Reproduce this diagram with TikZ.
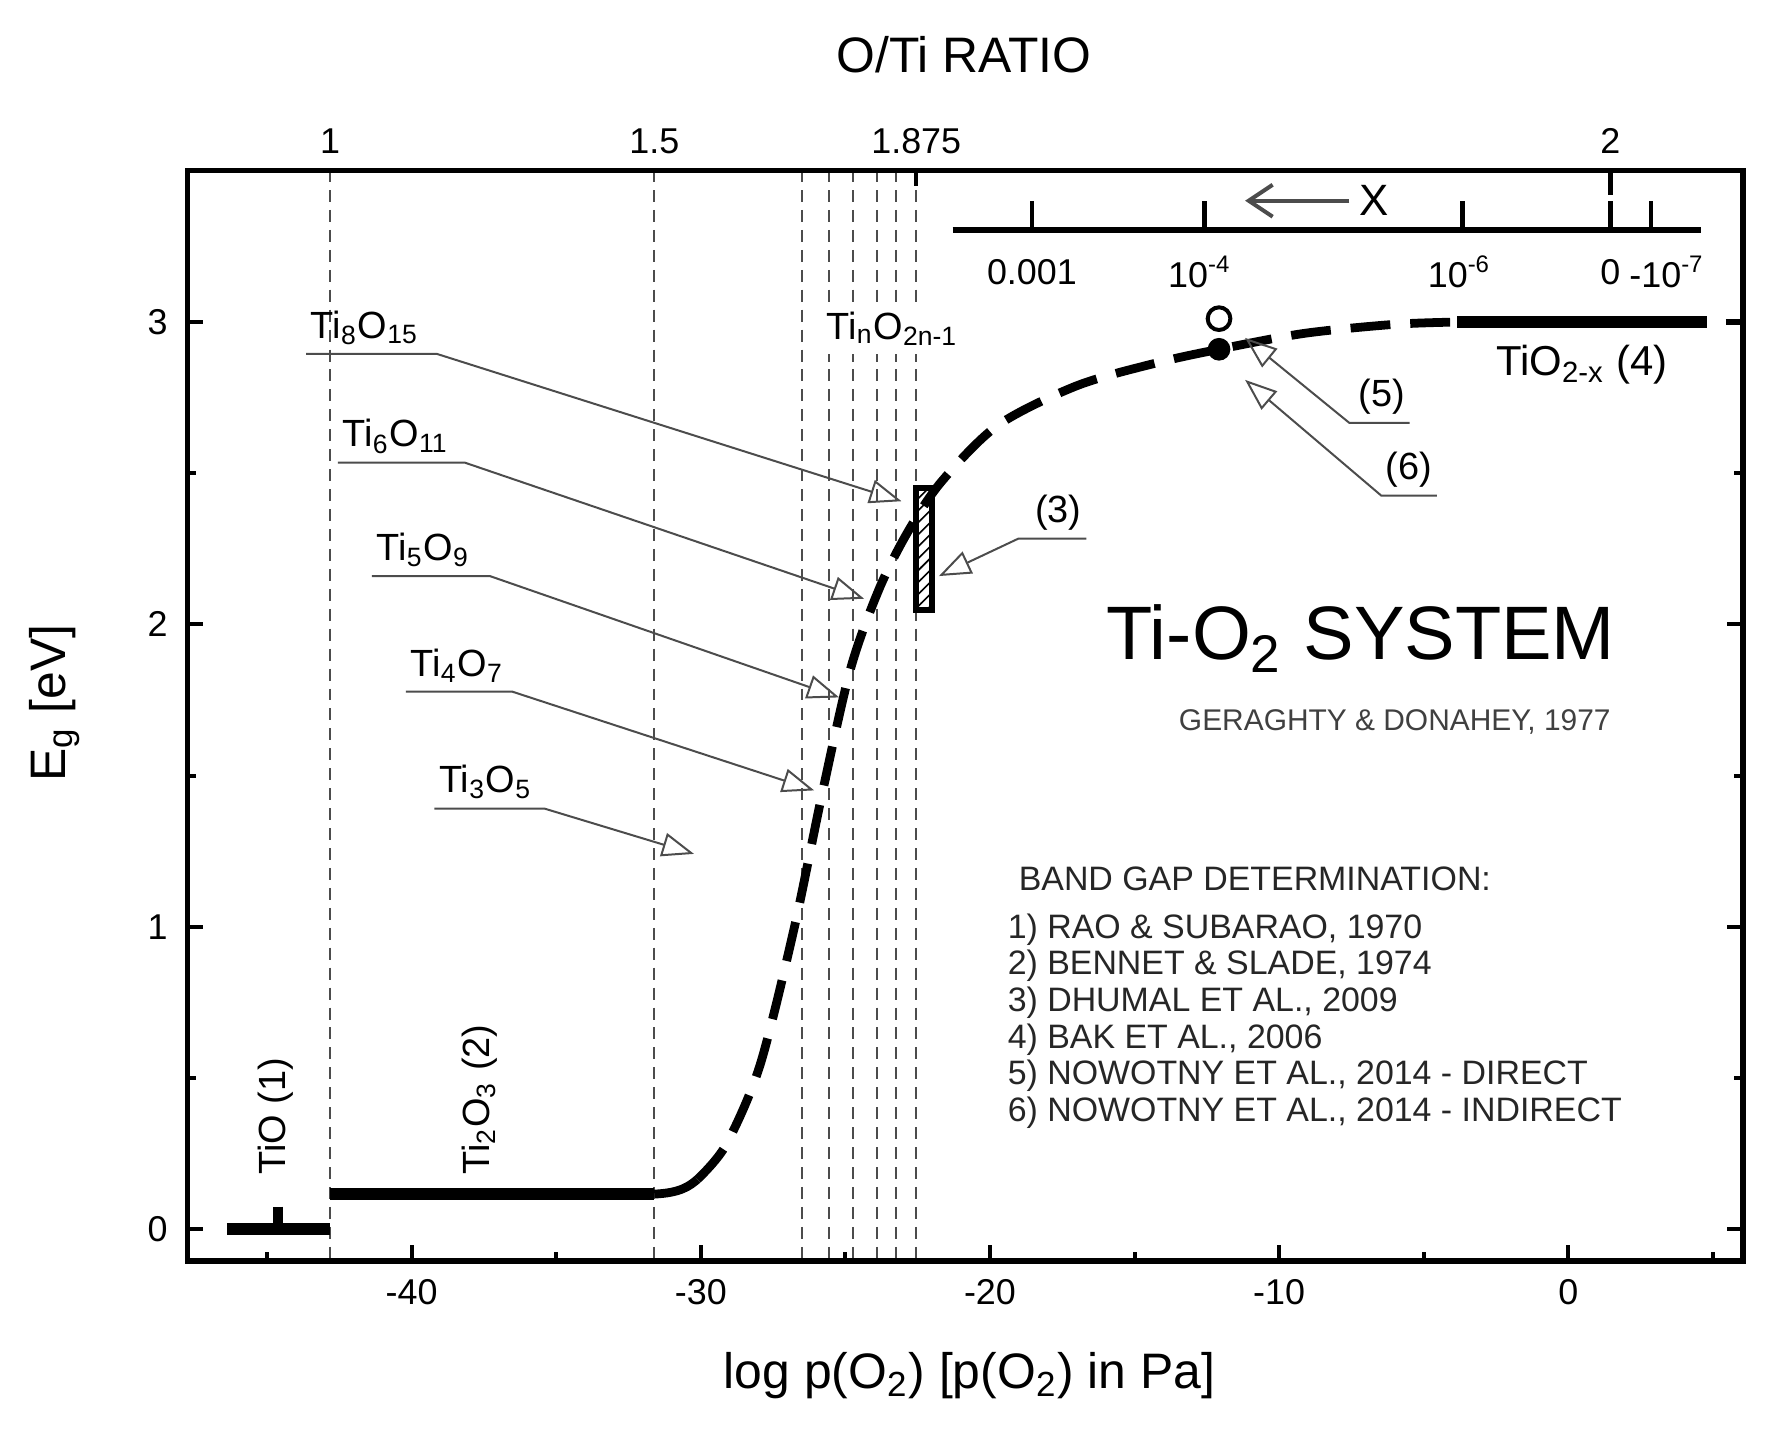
\documentclass[tikz,border=0pt]{standalone}
\usepackage{fontspec}
\setmainfont{Liberation Sans}
\usetikzlibrary{arrows.meta,patterns}
\newcommand{\sbs}[1]{\textsubscript{#1}}
\newcommand{\sps}[1]{\textsuperscript{#1}}
\begin{document}
\begin{tikzpicture}[x=0.01cm,y=-0.01cm,
  lbl/.style={font=\fontsize{9}{10}\selectfont,inner sep=1pt},
  cmp/.style={font=\fontsize{9.5}{11}\selectfont,inner sep=1pt,anchor=south west},
  lead/.style={draw=black!70,line width=0.5pt,-{Triangle[open,length=8pt,width=6pt]}},
  vdash/.style={black!70,line width=0.5pt,dash pattern=on 3pt off 2pt},
  thick line/.style={line width=3pt}]
\useasboundingbox (0,0) rectangle (1560,1260);
% vertical dashed lines
\foreach \xx in {291,577,707,731,752,773,790,808}
  \draw[vdash] (\xx,150) -- (\xx,1112);
% frame
\draw[line width=1.3pt] (165,150) rectangle (1537,1112);
% bottom ticks
\foreach \d in {-40,-30,-20,-10,0}
  \draw[line width=1pt] ({1383+25.5*\d},1112) -- ++(0,-14);
\foreach \d in {-45,-35,-25,-15,-5,5}
  \draw[line width=1pt] ({1383+25.5*\d},1112) -- ++(0,-8);
\foreach \d in {-40,-30,-20,-10,0}
  \node[lbl,anchor=north] (xl\d) at ({1383+25.5*\d},1124) {\d};
% y ticks
\foreach \e in {0,1,2,3} {
  \draw[line width=1pt] (165,{1084-266.7*\e}) -- ++(14,0);
  \draw[line width=1pt] (1537,{1084-266.7*\e}) -- ++(-14,0);
  \node[lbl,anchor=east] (yl\e) at (152,{1084-266.7*\e}) {\e};}
\foreach \e in {0.5,1.5,2.5} {
  \draw[line width=1pt] (165,{1084-266.7*\e}) -- ++(8,0);
  \draw[line width=1pt] (1537,{1084-266.7*\e}) -- ++(-8,0);}
% top ticks
\foreach \xx/\t/\n in {291/1/a,577/1.5/b,808/1.875/c,1420/2/d}
  \node[lbl,anchor=south] (tl\n) at (\xx,140) {\t};
\draw[line width=1pt] (808,150) -- ++(0,14);
\draw[line width=1.3pt] (1420,150) -- ++(0,22);
\node[font=\fontsize{12.5}{14}\selectfont] (top) at (850,48) {O/Ti RATIO};
\node[font=\fontsize{12.5}{14}\selectfont] (xlab) at (855,1213) {log p(O\sbs{2}) [p(O\sbs{2}) in Pa]};
\node[font=\fontsize{12.5}{14}\selectfont,rotate=90] (ylab) at (48,620) {E\sbs{g} [eV]};
% inset axis
\draw[line width=1.5pt] (840,203) -- (1500,203);
\foreach \xx in {910,1062,1290,1420,1456} \draw[line width=1.2pt] (\xx,203) -- ++(0,-26);
\node[lbl] (i1) at (910,240) {0.001};
\node[lbl] (i2) at (1058,240) {10\sps{-4}};
\node[lbl] (i3) at (1287,240) {10\sps{-6}};
\node[lbl] (i4) at (1420,240) {0};
\node[lbl] (i5) at (1470,240) {-10\sps{-7}};
\node[font=\fontsize{11}{12}\selectfont,inner sep=0pt] (X) at (1212,177) {X};
\coordinate (xa) at (1190,177);
\coordinate (xb) at (1098,177);
\draw[black!70,line width=1pt,-{Straight Barb[length=6pt,width=8pt]}] (xa) -- (xb);
% data
\draw[thick line] (200,1084) -- (291,1084);
\draw[line width=2.5pt] (245,1064) -- (245,1084);
\draw[thick line] (291,1053) -- (577,1053);
\draw[line width=2.2pt] (577,1053) .. controls (600,1052) and (608,1046) .. (615,1040);
\draw[line width=2.2pt,dash pattern=on 10pt off 5pt] plot[smooth] coordinates {(615,1040) (640,1010) (670,940) (700,820) (725,700) (750,590) (775,520) (800,470) (830,425) (880,375) (950,340) (1020,320) (1075,308) (1150,294) (1230,286) (1285,284)};
\draw[thick line] (1285,284) -- (1505,284);
\draw[line width=1.3pt] (1522,284) -- (1537,284);
\node[draw,line width=1.5pt,pattern=north east lines,minimum width=0.14cm,minimum height=1.08cm,inner sep=0pt] (rect) at (815,484) {};
\node[draw,line width=1pt,circle,minimum size=0.2cm,inner sep=0pt,fill=white] (oc) at (1075,281) {};
\node[fill=black,circle,minimum size=0.2cm,inner sep=0pt] (fc) at (1075,308) {};
% labels
\node[fill=white,inner sep=2pt,font=\fontsize{9.5}{11}\selectfont] (tin) at (787,290) {Ti\sbs{n}O\sbs{2n-1}};
\node[font=\fontsize{10.5}{12}\selectfont] (tio2) at (1395,322) {TiO\sbs{2-x} (4)};
\node[cmp,rotate=90,anchor=south west] (tio) at (263,1040) {TiO (1)};
\node[cmp,rotate=90,anchor=south west] (ti2o3) at (443,1040) {Ti\sbs{2}O\sbs{3} (2)};
\foreach \n/\t/\xa/\xb/\yy/\tx/\ty in {a/Ti\sbs{8}O\sbs{15}/270/385/312/795/442, b/Ti\sbs{6}O\sbs{11}/298/410/408/762/528, c/Ti\sbs{5}O\sbs{9}/328/432/508/740/615, d/Ti\sbs{4}O\sbs{7}/358/452/610/718/697, e/Ti\sbs{3}O\sbs{5}/383/480/713/612/753} {
  \coordinate (\n s) at (\xa,\yy); \coordinate (\n k) at (\xb,\yy); \coordinate (\n t) at (\tx,\ty);
  \node[cmp] (\n l) at (\xa,\yy-4) {\t};
  \draw[lead] (\n s) -- (\n k) -- (\n t);}
\foreach \n/\t/\xa/\xb/\yy/\tx/\ty in {f/(3)/958/898/475/828/508, g/(5)/1243/1190/373/1098/298, h/(6)/1267/1218/437/1098/335} {
  \coordinate (\n s) at (\xa,\yy); \coordinate (\n k) at (\xb,\yy); \coordinate (\n t) at (\tx,\ty);
  \node[cmp,anchor=south east] (\n l) at (\xa,\yy-3) {\t};
  \draw[lead] (\n s) -- (\n k) -- (\n t);}
\node[font=\fontsize{19}{22}\selectfont] (sys) at (1200,563) {Ti-O\sbs{2} SYSTEM};
\node[font=\fontsize{7.5}{9}\selectfont,text=black!75] (ger) at (1230,637) {GERAGHTY \& DONAHEY, 1977};
\node[font=\fontsize{8.5}{10}\selectfont,anchor=west,text=black!85] (bg) at (886,775) {BAND GAP DETERMINATION:};
\node[font=\fontsize{8.5}{9.2}\selectfont,anchor=north west,align=left,text=black!85,inner sep=0pt] (list) at (888,805) {1) RAO \& SUBARAO, 1970\\2) BENNET \& SLADE, 1974\\3) DHUMAL ET AL., 2009\\4) BAK ET AL., 2006\\5) NOWOTNY ET AL., 2014 - DIRECT\\6) NOWOTNY ET AL., 2014 - INDIRECT};
\end{tikzpicture}
\end{document}
